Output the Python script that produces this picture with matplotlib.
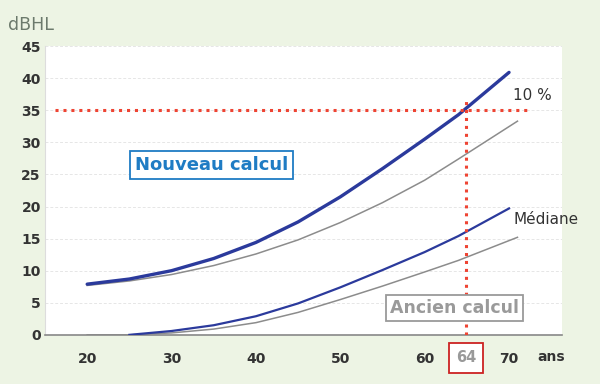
import numpy as np
import matplotlib.pyplot as plt

# ages (ans) and threshold (dBHL)
age_new_10 = [20, 25, 30, 35, 40, 45, 50, 55, 60, 64, 70]
new_10 = [7.9, 8.7, 10.0, 11.9, 14.4, 17.6, 21.5, 25.9, 30.5, 34.3, 40.9]

age_old_10 = [20, 25, 30, 35, 40, 45, 50, 55, 60, 64, 71]
old_10 = [7.7, 8.4, 9.4, 10.8, 12.6, 14.8, 17.5, 20.6, 24.1, 27.4, 33.3]

age_new_med = [25, 30, 35, 40, 45, 50, 55, 60, 64, 70]
new_med = [0.0, 0.6, 1.5, 2.9, 4.9, 7.4, 10.1, 12.9, 15.4, 19.7]

age_old_med = [20, 25, 30, 35, 40, 45, 50, 55, 60, 64, 71]
old_med = [0.0, 0.0, 0.3, 0.9, 1.9, 3.5, 5.5, 7.6, 9.8, 11.6, 15.2]

x_ticks = [20, 30, 40, 50, 60, 70]
y_ticks = [0, 5, 10, 15, 20, 25, 30, 35, 40, 45]
ref_label = '64'
ref_x = 64.9      # where the marker sits in the artwork
ref_db = 35

BLUE = '#2b3a9c'
GRAY = '#8c8c8c'
RED = '#ee4433'
BG = '#edf4e4'
TXT = '#333333'

fig = plt.figure(figsize=(6, 3.84), dpi=100, facecolor=BG)
ax = fig.add_axes([0.075, 0.128, 0.862, 0.752])
ax.set_facecolor('white')

# grid
for y in y_ticks[1:]:
    ax.axhline(y, color='#e6e6e6', lw=0.7, ls=(0, (3, 2)), zorder=0)

# curves
ax.plot(age_old_10, old_10, color=GRAY, lw=1.1, zorder=2, solid_joinstyle='round')
ax.plot(age_new_10, new_10, color=BLUE, lw=2.4, zorder=3, solid_capstyle='round',
        solid_joinstyle='round')
ax.plot(age_old_med, old_med, color=GRAY, lw=1.1, zorder=2, solid_joinstyle='round')
ax.plot(age_new_med, new_med, color=BLUE, lw=1.6, zorder=3, solid_joinstyle='round')

# red reference lines
ax.plot([16.2, 72.2], [ref_db, ref_db], color=RED, lw=2.2, ls=(0, (1, 1.6)), zorder=4)
ax.plot([ref_x, ref_x], [0, 37], color=RED, lw=2.2, ls=(0, (1, 1.6)), zorder=4)

ax.set_xlim(15, 76.3)
ax.set_ylim(0, 45)

for s in ['top', 'right']:
    ax.spines[s].set_visible(False)
ax.spines['left'].set_color('#dddddd')
ax.spines['left'].set_linewidth(0.8)
ax.spines['bottom'].set_color('#888888')
ax.spines['bottom'].set_linewidth(1.2)

ax.set_xticks(x_ticks)
ax.set_yticks(y_ticks)
ax.tick_params(length=0, labelsize=10, labelcolor=TXT)
ax.tick_params(axis='x', pad=12)
ax.tick_params(axis='y', pad=3)
for lab in ax.get_xticklabels() + ax.get_yticklabels():
    lab.set_fontweight('semibold')

# 64 label in red box
ax.annotate(ref_label, xy=(ref_x, 0), xycoords='data',
            xytext=(0, -16.5), textcoords='offset points', ha='center', va='center',
            fontsize=10.5, fontweight='bold', color='#999999', annotation_clip=False,
            bbox=dict(boxstyle='square,pad=0.5', fc='white', ec='#cc2222', lw=1.3))
ax.annotate('ans', xy=(73.4, 0), xycoords='data', xytext=(0, -16), textcoords='offset points',
            ha='left', va='center', fontsize=10, fontweight='semibold', color=TXT,
            annotation_clip=False)

fig.text(0.013, 0.935, 'dBHL', fontsize=12.5, color='#6c7a6c', ha='left', va='center')

# boxed labels
ax.text(34.7, 26.4, 'Nouveau calcul', fontsize=13, fontweight='bold', color='#1f7cc4',
        ha='center', va='center', zorder=6,
        bbox=dict(boxstyle='square,pad=0.28', fc='white', ec='#1f7cc4', lw=1.3))
ax.text(63.5, 4.2, 'Ancien calcul', fontsize=12.5, fontweight='bold', color='#9a9a9a',
        ha='center', va='center', zorder=6,
        bbox=dict(boxstyle='square,pad=0.22', fc='white', ec='#9a9a9a', lw=1.3))

ax.text(70.5, 37.3, '10 %', fontsize=11, color=TXT, ha='left', va='center')
ax.text(70.5, 17.9, 'Médiane', fontsize=11, color=TXT, ha='left', va='center')

plt.savefig('out.png', dpi=100, facecolor=BG)
